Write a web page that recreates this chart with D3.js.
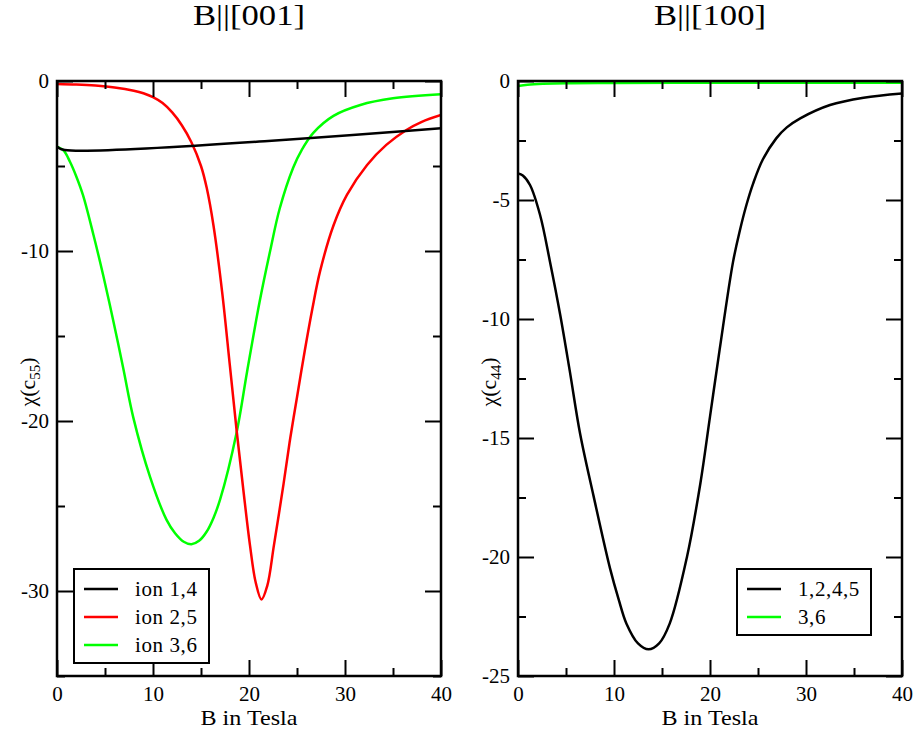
<!DOCTYPE html>
<html lang="en">
<head>
<meta charset="UTF-8" />
<script src="https://d3js.org/d3.v7.min.js"></script>
<title>chi(c55), chi(c44)</title>
<style>
  html, body { margin: 0; padding: 0; background: #fff; }
  svg text { font-family: "Liberation Serif", "Times New Roman", serif; fill: #000; }
</style>
</head>
<body>
<svg id="chart" width="917" height="736"></svg>
<script>
// ---- data ----
// left panel, B || [001], chi(c55)
var ion14B = [0, 0.8, 40];
var ion14V = [-3.86, -4.06, -2.78];

var ion25B = [0, 2, 4, 6, 8, 9, 10, 11, 12, 13, 14, 15, 15.6, 16.3, 17.2, 18, 18.7, 19.4, 20.1, 20.7, 21.3, 21.9, 22.6, 23.6, 24.3, 25, 25.8, 26.6, 27.4, 28.8, 30.2, 32.3, 34.3, 36.4, 38, 40];
var ion25V = [-0.18, -0.21, -0.27, -0.38, -0.57, -0.72, -0.95, -1.3, -1.85, -2.6, -3.6, -5.0, -6.3, -8.5, -12.4, -16.7, -20.5, -24.0, -27.3, -29.5, -30.5, -29.7, -27.3, -23.7, -21.0, -18.6, -15.9, -13.4, -11.2, -8.5, -6.7, -4.94, -3.76, -2.88, -2.4, -2.0];

var ion36B = [0, 0.7, 1.35, 2, 2.7, 3.8, 4.8, 5.9, 6.9, 7.95, 9.7, 11.4, 12.3, 13.2, 14.0, 14.8, 15.6, 16.3, 17.0, 18.7, 19.8, 21.1, 22.2, 23.2, 24.6, 25.5, 26.7, 28.8, 31.6, 35, 40];
var ion36V = [-3.86, -4.1, -4.75, -5.6, -6.7, -9.06, -11.4, -14.2, -16.9, -19.8, -23.3, -25.8, -26.6, -27.1, -27.25, -27.05, -26.5, -25.7, -24.6, -20.7, -17.1, -13.0, -10.0, -7.5, -5.1, -4.05, -3.05, -2.05, -1.41, -1.02, -0.78];

// right panel, B || [100], chi(c44)
var ion1245B = [0, 0.5, 1.25, 2.3, 3.33, 4.4, 5.4, 6.46, 7.85, 9.6, 10.5, 11.3, 12.5, 13.6, 14.7, 15.8, 17.6, 19.0, 20.0, 21.0, 22.4, 23.1, 23.8, 24.5, 25.5, 26.9, 28, 29.4, 32.5, 36, 40];
var ion1245V = [-3.88, -3.97, -4.37, -5.63, -7.59, -9.83, -12.2, -14.8, -17.4, -20.5, -21.8, -22.8, -23.63, -23.88, -23.63, -22.8, -20.0, -16.9, -14.1, -11.3, -7.6, -6.3, -5.2, -4.3, -3.3, -2.41, -1.95, -1.57, -1.01, -0.7, -0.52];

var ion36rB = [0, 1, 2.6, 5, 10, 20, 30, 40];
var ion36rV = [-0.21, -0.16, -0.12, -0.09, -0.08, -0.07, -0.07, -0.07];

var xTicks = [0, 10, 20, 30, 40];
var xMinor = [5, 15, 25, 35];

function zip(b, v) { return b.map(function (d, i) { return {b: d, v: v[i]}; }); }

var panels = [
  {
    x0: 57, x1: 441, title: "B||[001]", ylab: ["\u03c7(c", "55", ")"],
    yDomain: [-35, 0], yTicks: [0, -10, -20, -30], yMinor: [-5, -15, -25, -35],
    series: [
      {name: "ion 1,4", color: "#000", data: zip(ion14B, ion14V)},
      {name: "ion 2,5", color: "#ff0000", data: zip(ion25B, ion25V)},
      {name: "ion 3,6", color: "#00ff00", data: zip(ion36B, ion36V)}
    ],
    legend: {x: 74, y: 569, w: 135, h: 94}
  },
  {
    x0: 518, x1: 902, title: "B||[100]", ylab: ["\u03c7(c", "44", ")"],
    yDomain: [-25, 0], yTicks: [0, -5, -10, -15, -20, -25], yMinor: [-2.5, -7.5, -12.5, -17.5, -22.5],
    series: [
      {name: "1,2,4,5", color: "#000", data: zip(ion1245B, ion1245V)},
      {name: "3,6", color: "#00ff00", data: zip(ion36rB, ion36rV)}
    ],
    legend: {x: 737, y: 569, w: 134, h: 66}
  }
];

var top0 = 81, bot0 = 676;
var serif = '"Liberation Serif", "Times New Roman", serif';
var svg = d3.select("#chart");

panels.forEach(function (p) {
  var x = d3.scaleLinear().domain([0, 40]).range([p.x0, p.x1]);
  var y = d3.scaleLinear().domain(p.yDomain).range([bot0, top0]);
  var g = svg.append("g");

  // clip so curves stay in the frame
  var cid = "clip" + p.x0;
  svg.append("clipPath").attr("id", cid).append("rect")
    .attr("x", p.x0).attr("y", top0).attr("width", p.x1 - p.x0).attr("height", bot0 - top0);

  var line = d3.line().x(function (d) { return x(d.b); }).y(function (d) { return y(d.v); })
    .curve(d3.curveCatmullRom.alpha(0.5));

  var curves = g.append("g").attr("clip-path", "url(#" + cid + ")");
  p.series.slice().reverse().forEach(function (s) {
    curves.append("path").datum(s.data)
      .attr("fill", "none").attr("stroke", s.color).attr("stroke-width", 2.5)
      .attr("stroke-linejoin", "round")
      .attr("d", line);
  });

  // axes, ticks pointing inward on all four sides
  function ax(axisFn, scale, vals, size, labels, tr) {
    var a = axisFn(scale).tickValues(vals).tickSize(-size)
      .tickPadding(axisFn === d3.axisBottom ? 10 : 8)
      .tickFormat(labels ? function (d) { return String(d); } : "");
    var ag = g.append("g").attr("transform", tr).call(a);
    ag.attr("font-family", null).attr("font-size", null);
    ag.select(".domain").remove();
    ag.selectAll(".tick line").attr("stroke", "#000").attr("stroke-width", 2);
    ag.selectAll("text").style("font-size", "21px").style("font-family", serif).attr("fill", "#000");
    return ag;
  }
  ax(d3.axisBottom, x, xTicks, 16, true, "translate(0," + bot0 + ")");
  ax(d3.axisBottom, x, xMinor, 8, false, "translate(0," + bot0 + ")");
  ax(d3.axisTop, x, xTicks, 16, false, "translate(0," + top0 + ")");
  ax(d3.axisTop, x, xMinor, 8, false, "translate(0," + top0 + ")");
  ax(d3.axisLeft, y, p.yTicks, 16, true, "translate(" + p.x0 + ",0)");
  ax(d3.axisLeft, y, p.yMinor, 8, false, "translate(" + p.x0 + ",0)");
  ax(d3.axisRight, y, p.yTicks, 16, false, "translate(" + p.x1 + ",0)");
  ax(d3.axisRight, y, p.yMinor, 8, false, "translate(" + p.x1 + ",0)");

  g.append("rect")
    .attr("x", p.x0).attr("y", top0).attr("width", p.x1 - p.x0).attr("height", bot0 - top0)
    .attr("fill", "none").attr("stroke", "#000").attr("stroke-width", 2.5);

  var cx = (p.x0 + p.x1) / 2;
  g.append("text").attr("x", cx).attr("y", 25).attr("text-anchor", "middle")
    .attr("textLength", 112).attr("lengthAdjust", "spacingAndGlyphs")
    .style("font-size", "29px").text(p.title);
  g.append("text").attr("x", cx).attr("y", 725).attr("text-anchor", "middle")
    .attr("textLength", 97).attr("lengthAdjust", "spacingAndGlyphs")
    .style("font-size", "21px").text("B in Tesla");

  var yl = g.append("text").attr("text-anchor", "middle").style("font-size", "22px")
    .attr("transform", "translate(" + (p.x0 - 22) + ",382) rotate(-90)");
  yl.append("tspan").text(p.ylab[0]);
  yl.append("tspan").attr("dy", 5).style("font-size", "15px").text(p.ylab[1]);
  yl.append("tspan").attr("dy", -5).text(p.ylab[2]);

  // legend
  var L = p.legend;
  var lg = g.append("g");
  lg.append("rect").attr("x", L.x).attr("y", L.y).attr("width", L.w).attr("height", L.h)
    .attr("fill", "#fff").attr("stroke", "#000").attr("stroke-width", 2);
  p.series.forEach(function (s, i) {
    var yy = L.y + 20 + i * 28;
    lg.append("line").attr("x1", L.x + 10).attr("x2", L.x + 44).attr("y1", yy).attr("y2", yy)
      .attr("stroke", s.color).attr("stroke-width", 2.5);
    lg.append("text").attr("x", L.x + 61).attr("y", yy).attr("dy", "0.33em")
      .style("font-size", "21px").style("letter-spacing", "0.6px").text(s.name);
  });
});
</script>
</body>
</html>
